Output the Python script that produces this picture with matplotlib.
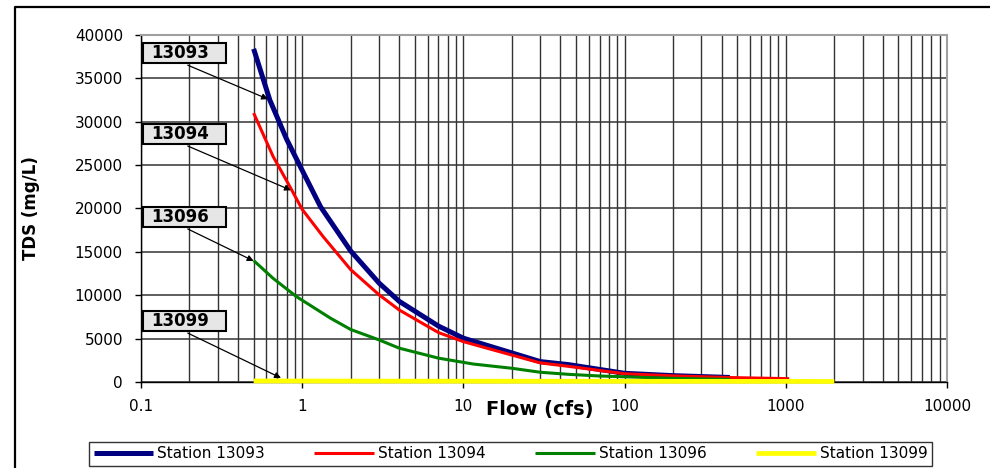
import matplotlib
matplotlib.use("Agg")
import matplotlib.pyplot as plt
from matplotlib.lines import Line2D
from matplotlib.patches import Rectangle
from matplotlib.ticker import FixedLocator, FixedFormatter, LogLocator, NullFormatter

plt.rcParams['font.family'] = ['DejaVu Sans']

# TDS vs flow for each station
blue_flow = [0.5, 0.63, 0.8, 1.0, 1.3, 2.0, 3.0, 4.0, 7.0, 10, 20, 30, 45, 100, 200, 450]
blue_tds = [38400, 32500, 28000, 24400, 20200, 15100, 11400, 9300, 6450, 5050, 3350, 2350, 2000, 1000, 730, 520]

red_flow = [0.5, 0.66, 0.84, 1.0, 1.35, 2.0, 3.0, 4.0, 7.0, 10, 20, 30, 45, 100, 200, 430, 1050]
red_tds = [31000, 26000, 22500, 19900, 16750, 12950, 10050, 8300, 5700, 4650, 3100, 2200, 1800, 950, 700, 520, 380]

green_flow = [0.5, 0.66, 0.92, 1.5, 2.0, 3.0, 4.0, 7.0, 11.5, 20, 30, 45, 70, 125, 200, 450]
green_tds = [14000, 11950, 9850, 7350, 6050, 4850, 3900, 2750, 2070, 1580, 1120, 880, 690, 540, 420, 300]

yellow_flow = [0.5, 10, 100, 1000, 2000]
yellow_tds = [120, 90, 80, 70, 60]

series_names = ['Station 13093', 'Station 13094', 'Station 13096', 'Station 13099']
box_labels = ['13093', '13094', '13096', '13099']
# where each callout arrow points (flow, tds)
arrow_flow = [0.614, 0.852, 0.5, 0.739]
arrow_tds = [32600, 22100, 13950, 460]

x_ticks = [0.1, 1, 10, 100, 1000, 10000]
x_tick_labels = ['0.1', '1', '10', '100', '1000', '10000']
y_ticks = [0, 5000, 10000, 15000, 20000, 25000, 30000, 35000, 40000]

fig = plt.figure(figsize=(9.9, 4.68), dpi=100)
ax = fig.add_axes([0.1424, 0.1838, 0.8141, 0.7415])

ax.plot(blue_flow, blue_tds, color='#000080', lw=3.6, solid_capstyle='butt', label=series_names[0])
ax.plot(red_flow, red_tds, color='#ff0000', lw=2.2, solid_capstyle='butt', label=series_names[1])
ax.plot(green_flow, green_tds, color='#008000', lw=2.2, solid_capstyle='butt', label=series_names[2])
ax.plot(yellow_flow, yellow_tds, color='#ffff00', lw=3.4, solid_capstyle='butt', label=series_names[3], clip_on=False, zorder=3)

ax.set_xscale('log')
ax.set_xlim(0.1, 10000)
ax.set_ylim(0, 40000)
ax.xaxis.set_major_locator(FixedLocator(x_ticks))
ax.xaxis.set_major_formatter(FixedFormatter(x_tick_labels))
ax.xaxis.set_minor_locator(LogLocator(base=10, subs=range(2, 10)))
ax.xaxis.set_minor_formatter(NullFormatter())
ax.set_yticks(y_ticks)
ax.set_yticklabels([str(v) for v in y_ticks])

ax.grid(True, which='both', axis='x', color='#333333', lw=1.0)
ax.grid(True, which='major', axis='y', color='#333333', lw=1.1)
ax.set_axisbelow(True)

ax.tick_params(axis='both', which='major', direction='out', length=4, width=1, labelsize=11, colors='black')
ax.tick_params(axis='x', which='major', pad=8)
ax.tick_params(axis='y', which='major', pad=9)
ax.tick_params(axis='x', which='minor', length=0)

for s in ['top', 'right']:
    ax.spines[s].set_color('#a0a0a0')
    ax.spines[s].set_linewidth(1.5)
for s in ['left', 'bottom']:
    ax.spines[s].set_color('black')
    ax.spines[s].set_linewidth(1.0)

# callout boxes with arrows
box_yc = [0.948, 0.7147, 0.4755, 0.1758]
tail_y = [0.913, 0.680, 0.441, 0.141]
box_h = 20 / 347
for lab, yc, ty, fx, fy in zip(box_labels, box_yc, tail_y, arrow_flow, arrow_tds):
    ax.add_patch(Rectangle((0.002, yc - box_h / 2), 0.103, box_h, transform=ax.transAxes,
                           facecolor='#e6e6e6', edgecolor='black', lw=1.5, zorder=5, clip_on=False))
    ax.text(0.048, yc, lab, transform=ax.transAxes, ha='center', va='center',
            fontsize=12, fontweight='bold', zorder=6)
    ax.annotate('', xy=(fx, fy), xycoords='data', xytext=(0.058, ty), textcoords='axes fraction',
                arrowprops=dict(arrowstyle='-|>', color='black', lw=0.9, mutation_scale=9,
                                shrinkA=0, shrinkB=0), zorder=6)

fig.text(0.031, 0.555, 'TDS (mg/L)', rotation=90, ha='center', va='center',
         fontsize=12, fontweight='bold')
fig.text(0.545, 0.124, 'Flow (cfs)', ha='center', va='center', fontsize=14, fontweight='bold')

leg = fig.legend(loc='lower left', bbox_to_anchor=(0.0899, 0.0043, 0.8515, 0.062),
                 mode='expand', ncol=4, fontsize=11, frameon=True, fancybox=False,
                 handlelength=3.9, handletextpad=0.26, borderpad=0.3, borderaxespad=0,
                 columnspacing=1.5)
leg.get_frame().set_edgecolor('black')
leg.get_frame().set_linewidth(1.0)

# outer chart frame
fig.lines.append(Line2D([15 / 990, 15 / 990, 1.0], [0.0, 1 - 7 / 468, 1 - 7 / 468],
                        transform=fig.transFigure, color='black', lw=1.6))

fig.savefig('out.png', dpi=100)
